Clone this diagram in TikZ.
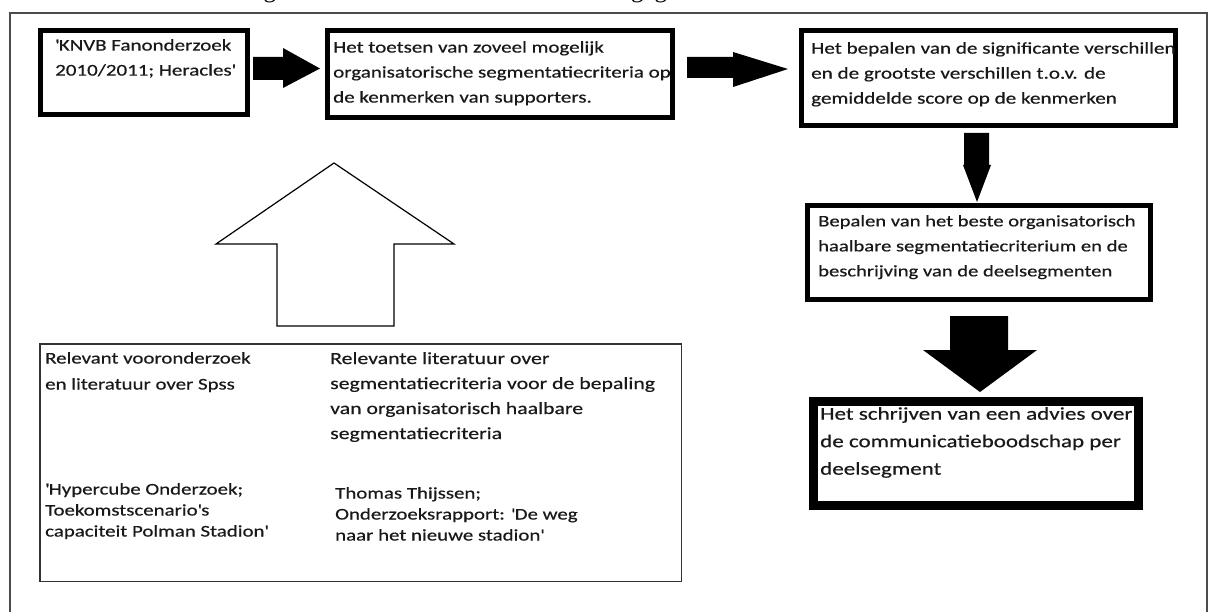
\documentclass[tikz,border=0pt]{standalone}
\usepackage{fontspec}
\setmainfont{Carlito}[FakeStretch=1.28, FakeBold=0.5]
\newfontfamily\kopfont{Liberation Serif}
\usetikzlibrary{positioning}

\tikzset{
  stepbox/.style={draw=black, line width=5pt, fill=white, inner sep=0pt},
  bronbox/.style={draw=black!80, line width=1.5pt, inner sep=0pt},
  boxtext/.style={anchor=north west, inner sep=0pt, align=left, text=black!90,
    font=\fontsize{16.5}{25}\selectfont},
  blokpijl/.style={fill=black},
}

\begin{document}
\begin{tikzpicture}[x=1pt,y=-1pt]
\useasboundingbox (0,0) rectangle (1214,612);
% afgesneden regel boven het kader
\node[anchor=base west, inner sep=0pt, font=\kopfont\fontsize{25}{28}\selectfont] (kop) at (60,-2)
  {De onderzoeksstrategie staat hieronder schematisch weergegeven.};
% buitenkader
\draw[black!70, line width=2pt] (10,640) -- (10,13) -- (1207,13) -- (1207,640);

%  Stappen
\node[stepbox, minimum width=207, minimum height=84] (knvb) at (144,72.5) {};
\node[stepbox, minimum width=345, minimum height=87] (toetsen) at (500,74) {};
\node[stepbox, minimum width=374, minimum height=95] (verschillen) at (988.5,78) {};
\node[stepbox, minimum width=343, minimum height=94] (criterium) at (979,252.5) {};
\node[stepbox, line width=9pt, minimum width=325, minimum height=104] (advies) at (976,453.5) {};
% teksten in de stappen
\node[boxtext, font=\fontsize{16.4}{25}\selectfont] (knvbtekst) at (55,39) {\textquotesingle KNVB Fanonderzoek\\ 2010/2011; Heracles\textquotesingle};
\node[boxtext, font=\fontsize{16.4}{25}\selectfont] (toetsentekst) at (333,41) {Het toetsen van zoveel mogelijk\\ organisatorische segmentatiecriteria op\\ de kenmerken van supporters.};
\node[boxtext, font=\fontsize{16.5}{25}\selectfont] (verschillentekst) at (811,42) {Het bepalen van de significante verschillen\\ en de grootste verschillen t.o.v. de\\ gemiddelde score op de kenmerken};
\node[boxtext, font=\fontsize{16.1}{25}\selectfont] (criteriumtekst) at (818,215) {Bepalen van het beste organisatorisch\\ haalbare segmentatiecriterium en de\\ beschrijving van de deelsegmenten};
\node[boxtext, font=\fontsize{18}{27.5}\selectfont] (adviestekst) at (820,407) {Het schrijven van een advies over\\ de communicatieboodschap per\\ deelsegment};

%  Blokpijlen tussen de stappen
\fill[blokpijl] (253,57) -- (283,57) -- (283,48) -- (320,68.5) -- (283,88) -- (283,80) -- (253,80) -- cycle;
\fill[blokpijl] (687,57) -- (733,57) -- (733,52) -- (788,69) -- (733,87) -- (733,78) -- (687,78) -- cycle;
\fill[blokpijl] (964,133) -- (989,133) -- (989,165) -- (991,165) -- (977,202) -- (963,165) -- (964,165) -- cycle;
\fill[blokpijl] (950,316) -- (1008,316) -- (1008,350) -- (1037,350) -- (980,392) -- (923,350) -- (950,350) -- cycle;

%  Open pijl van de bronnen naar het toetsen
\draw[line width=1.2pt, line join=miter] (277,326) -- (277,244) -- (216,244) -- (334,163) -- (454,244) -- (394,244) -- (394,326) -- cycle;

%  Bronnen
\node[bronbox, minimum width=641.5, minimum height=237.5] (bronnen) at (360.5,462.5) {};
\node[boxtext, font=\fontsize{16.3}{26}\selectfont] (spss) at (45,352) {Relevant vooronderzoek\\ en literatuur over Spss};
\node[boxtext, font=\fontsize{16.3}{21}\selectfont] (hypercube) at (45,483) {\textquotesingle Hypercube Onderzoek;\\ Toekomstscenario\textquotesingle s\\ capaciteit Polman Stadion\textquotesingle};
\node[boxtext, font=\fontsize{17}{25}\selectfont] (literatuur) at (330,352) {Relevante literatuur over\\ segmentatiecriteria voor de bepaling\\ van organisatorisch haalbare\\ segmentatiecriteria};
\node[boxtext, font=\fontsize{16.3}{21}\selectfont] (thijssen) at (335,487) {Thomas Thijssen;\\ Onderzoeksrapport: \textquotesingle De weg\\ naar het nieuwe stadion\textquotesingle};
\end{tikzpicture}
\end{document}
